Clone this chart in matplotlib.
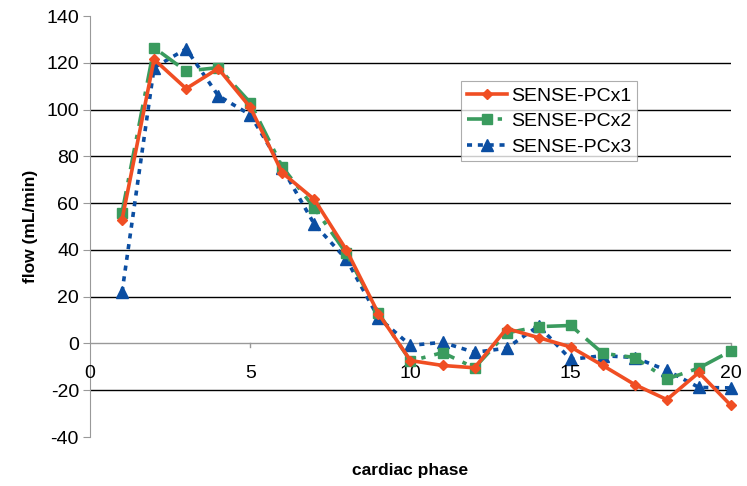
import matplotlib
matplotlib.use("Agg")
import matplotlib.pyplot as plt

plt.rcParams['font.family'] = ['Liberation Sans', 'DejaVu Sans']

phase = list(range(1, 21))
pcx1 = [53, 121.5, 109, 117.6, 101, 73, 61.6, 40, 12.8, -7.3, -9.4, -10.4, 6.4, 2.5, -1.5, -9.4, -17.6, -24, -12.4, -26.5]
pcx2 = [56, 126.5, 116.5, 118, 103, 75.5, 58, 38.5, 13, -7.5, -3.9, -10.4, 4.5, 7.2, 7.7, -4.2, -6, -15.2, -10.5, -3.2]
pcx3 = [22, 118, 126, 106, 97.8, 75, 51, 36, 11, -0.8, 0.5, -3.8, -2, 7.5, -6.8, -5.2, -6, -11.5, -18.8, -19]

yticks = [-40, -20, 0, 20, 40, 60, 80, 100, 120, 140]
xticks = [0, 5, 10, 15, 20]

fig = plt.figure(figsize=(7.47, 4.86), dpi=100)
ax = fig.add_axes([0.1205, 0.1008, 0.858, 0.866])

# gridlines (black) except at 0, -40 and 140
for y in [-20, 20, 40, 60, 80, 100, 120]:
    ax.axhline(y, color='black', lw=1.0, zorder=1)
ax.axhline(0, color='#999999', lw=1.0, zorder=1)

ax.plot(phase, pcx1, color='#F04E23', lw=2.6, marker='D', ms=5.5,
        label='SENSE-PCx1', zorder=5, clip_on=False)
ax.plot(phase, pcx2, color='#3A9B5E', lw=2.6, marker='s', ms=7.5,
        dashes=(6, 2.5, 1.2, 2.5), label='SENSE-PCx2', zorder=4, clip_on=False)
ax.plot(phase, pcx3, color='#0B4EA2', lw=2.6, marker='^', ms=8,
        dashes=(1.4, 1.6), label='SENSE-PCx3', zorder=3, clip_on=False)

ax.set_xlim(0, 20)
ax.set_ylim(-40, 140)
ax.set_yticks(yticks)
ax.set_yticklabels([str(v) for v in yticks], fontsize=14)
ax.set_xticks([])

for s in ['top', 'right', 'bottom']:
    ax.spines[s].set_visible(False)
ax.spines['left'].set_color('#999999')
ax.tick_params(axis='y', length=5, color='#999999', pad=3)

# x tick marks and labels sitting under the zero line
for x in xticks:
    if x > 0:
        ax.plot([x, x], [0, -1.5], color='#999999', lw=1.0, zorder=1, clip_on=False)
    ax.text(x, -9, str(x), ha='center', va='top', fontsize=14)

ax.set_ylabel('flow (mL/min)', fontsize=12.5, fontweight='bold', labelpad=6)
ax.text(10, -54.5, 'cardiac phase', ha='center', va='center', fontsize=12.5, fontweight='bold')

leg = ax.legend(loc='upper left', bbox_to_anchor=(0.579, 0.845), fontsize=14,
                frameon=True, fancybox=False, borderpad=0.3, labelspacing=0.4,
                handlelength=2.05, handletextpad=0.2, borderaxespad=0)
leg.get_frame().set_edgecolor('#999999')
leg.get_frame().set_linewidth(0.8)

fig.savefig('out.png', dpi=100)
